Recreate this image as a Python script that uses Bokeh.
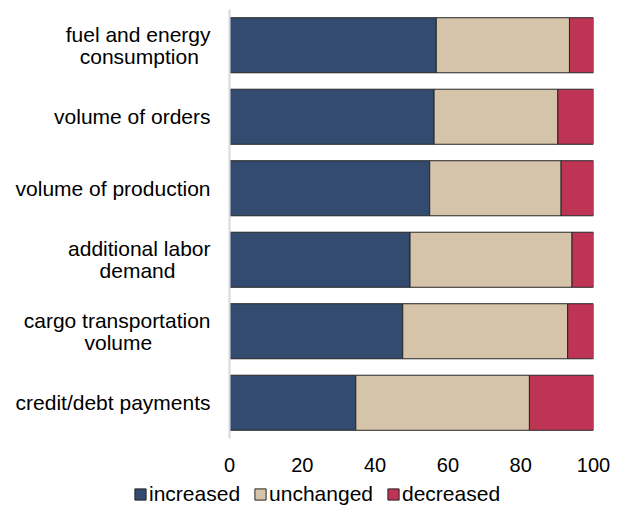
from bokeh.plotting import figure
from bokeh.layouts import column
from bokeh.models import ColumnDataSource, Range1d, FactorRange, Legend, LegendItem, FixedTicker
from bokeh.embed import file_html
from bokeh.resources import INLINE

categories = ["fuel and energy\nconsumption", "volume of orders", "volume of production",
              "additional labor\ndemand", "cargo transportation\nvolume", "credit/debt payments"]
increased = [56.8, 56.2, 55.0, 49.6, 47.6, 34.7]
unchanged = [36.6, 34.0, 36.1, 44.5, 45.3, 47.7]
decreased = [6.6, 9.8, 8.9, 5.9, 7.1, 17.6]
series = ["increased", "unchanged", "decreased"]
colors = ["#324b6f", "#d5c4aa", "#be3455"]
x_ticks = [0, 20, 40, 60, 80, 100]

FONT = "Liberation Sans"
NBSP = "\u00a0"
OUTLINE = "#262626"

# approximate advance widths (per 1000 em) used to centre the second line of two-line labels
_W = {"f": 278, "t": 278, "r": 333, "i": 222, "l": 222, "j": 222, " ": 278, "/": 278,
      "c": 500, "k": 500, "s": 500, "v": 500, "x": 500, "y": 500, "z": 500,
      "m": 833, "w": 722}


def _width(s):
    return sum(_W.get(ch, 556) for ch in s)


def centred(label):
    if "\n" not in label:
        return label
    a, b = label.split("\n")
    pad = max(0, round((_width(a) - _width(b)) / 2 / 278))
    return a + "\n" + b + NBSP * pad


labels = [centred(c) for c in categories]

source = ColumnDataSource(dict(cat=labels, increased=increased,
                               unchanged=unchanged, decreased=decreased))

p = figure(width=615, height=479, output_backend="svg", toolbar_location=None,
           y_range=FactorRange(factors=labels[::-1], range_padding=0),
           x_range=Range1d(0, 100),
           min_border_left=229, min_border_right=22, min_border_top=9, min_border_bottom=41)

p.hbar_stack(series, y="cat", height=0.77, source=source, color=colors,
             line_color=OUTLINE, line_width=1)

p.toolbar.logo = None
p.outline_line_color = None
p.grid.visible = False
p.background_fill_color = "white"
p.border_fill_color = "white"

xa = p.xaxis[0]
xa.ticker = FixedTicker(ticks=x_ticks)
xa.axis_line_color = None
xa.major_tick_line_color = None
xa.minor_tick_line_color = None
xa.major_tick_out = 0
xa.major_tick_in = 0
xa.major_label_text_font = FONT
xa.major_label_text_font_size = "20px"
xa.major_label_text_color = "#000000"
xa.major_label_standoff = 19

ya = p.yaxis[0]
ya.axis_line_color = "#d9d9d9"
ya.axis_line_width = 2
ya.major_tick_line_color = None
ya.minor_tick_line_color = None
ya.major_tick_out = 0
ya.major_tick_in = 0
ya.major_label_text_font = FONT
ya.major_label_text_font_size = "21px"
ya.major_label_text_color = "#000000"
ya.major_label_standoff = 19
ya.major_label_text_line_height = 0.95

# legend strip below the chart (swatch renderers are zero-size and outside the strip's range)
lg = figure(width=615, height=27, output_backend="svg", toolbar_location=None,
            x_range=Range1d(0, 1), y_range=Range1d(0, 1),
            x_axis_location=None, y_axis_location=None,
            min_border_left=0, min_border_right=0, min_border_top=0, min_border_bottom=0)
lg.frame_align = False
lg.toolbar.logo = None
lg.outline_line_color = None
lg.grid.visible = False
items = []
for s, c in zip(series, colors):
    r = lg.hbar(y=[-1], left=[0], right=[0], height=0, fill_color=c,
                line_color=OUTLINE, line_width=1)
    items.append(LegendItem(label=s, renderers=[r]))
legend = Legend(items=items, orientation="horizontal", location=(133, 0),
                glyph_width=14, glyph_height=14, label_standoff=2, spacing=13,
                padding=0, margin=0, border_line_color=None,
                background_fill_alpha=0,
                label_text_font=FONT, label_text_font_size="21px",
                label_text_color="#000000")
lg.add_layout(legend, "center")

layout = column(p, lg, spacing=0)
open("out.html", "w").write(file_html(layout, INLINE))
